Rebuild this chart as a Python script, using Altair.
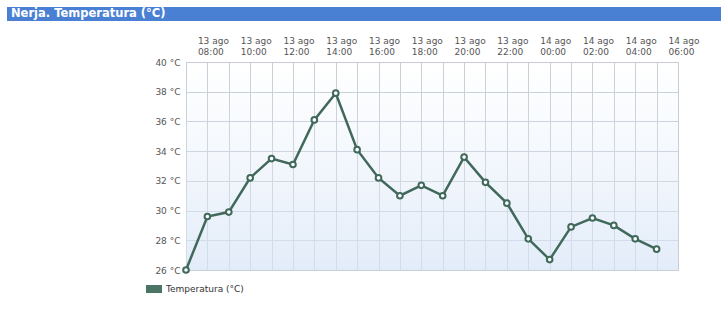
import altair as alt
import pandas as pd

title_text = "Nerja. Temperatura (°C)"
series_name = "Temperatura (°C)"
times = [
    "2023-08-13T07:00:00Z", "2023-08-13T08:00:00Z", "2023-08-13T09:00:00Z",
    "2023-08-13T10:00:00Z", "2023-08-13T11:00:00Z", "2023-08-13T12:00:00Z",
    "2023-08-13T13:00:00Z", "2023-08-13T14:00:00Z", "2023-08-13T15:00:00Z",
    "2023-08-13T16:00:00Z", "2023-08-13T17:00:00Z", "2023-08-13T18:00:00Z",
    "2023-08-13T19:00:00Z", "2023-08-13T20:00:00Z", "2023-08-13T21:00:00Z",
    "2023-08-13T22:00:00Z", "2023-08-13T23:00:00Z", "2023-08-14T00:00:00Z",
    "2023-08-14T01:00:00Z", "2023-08-14T02:00:00Z", "2023-08-14T03:00:00Z",
    "2023-08-14T04:00:00Z", "2023-08-14T05:00:00Z",
]
temps = [26.0, 29.6, 29.9, 32.2, 33.5, 33.1, 36.1, 37.9, 34.1, 32.2, 31.0, 31.7,
         31.0, 33.6, 31.9, 30.5, 28.1, 26.7, 28.9, 29.5, 29.0, 28.1, 27.4]
x_domain = ["2023-08-13T07:00:00Z", "2023-08-14T06:00:00Z"]
hour_ticks = times + ["2023-08-14T06:00:00Z"]
y_ticks = [26, 28, 30, 32, 34, 36, 38, 40]


def to_ms(s):
    return int(pd.Timestamp(s).value // 10**6)


df = pd.DataFrame({"time": [to_ms(t) for t in times], "temp": temps, "serie": series_name})
tdf = pd.DataFrame({"t": [title_text]})

LINE = "#41695b"
FONT = "DejaVu Sans"

x_enc = alt.X(
    "time:T",
    scale=alt.Scale(type="utc", domain=[to_ms(d) for d in x_domain]),
    axis=alt.Axis(
        orient="top", title=None, values=[to_ms(t) for t in hour_ticks],
        ticks=False, tickSize=0,
        domain=False, grid=True, gridColor="#c9ced6", gridWidth=1,
        labelExpr="utchours(datum.value) % 2 == 0 ? [utcFormat(datum.value, '%d') + ' ago', utcFormat(datum.value, '%H:%M')] : ''",
        labelAlign="left", labelOffset=-10, labelPadding=17, labelLineHeight=11,
        labelFont=FONT, labelFontSize=9, labelColor="#555555", labelFlush=False,
        labelOverlap=False, zindex=0,
    ),
)
y_enc = alt.Y(
    "temp:Q",
    scale=alt.Scale(domain=[26, 40], nice=False, zero=False),
    axis=alt.Axis(
        title=None, values=y_ticks, ticks=False, tickSize=0, domain=False,
        grid=True, gridColor="#c9ced6", labelExpr="datum.value + ' °C'",
        labelPadding=6, labelFont=FONT, labelFontSize=9, labelColor="#555555",
        labelOverlap=False, labelFlush=False, zindex=0,
    ),
)

bg = alt.Chart(tdf).mark_rect(
    color=alt.LinearGradient(
        gradient="linear", x1=0, x2=0, y1=0, y2=1,
        stops=[alt.GradientStop(offset=0, color="rgba(225,235,248,0)"),
               alt.GradientStop(offset=1, color="rgba(214,228,246,0.7)")],
    )
).encode(x=alt.value(0), x2=alt.value(492), y=alt.value(0), y2=alt.value(208))

line = alt.Chart(df).mark_line(strokeWidth=2.5).encode(
    x=x_enc, y=y_enc,
    color=alt.Color(
        "serie:N", scale=alt.Scale(range=[LINE]),
        legend=alt.Legend(
            title=None, orient="none", legendX=-40, legendY=219,
            symbolType="M-1,-0.5H1V0.5H-1Z", symbolSize=256,
            symbolFillColor="#4a7564", symbolStrokeWidth=0,
            labelFont=FONT, labelFontSize=9, labelColor="#333333",
        ),
    ),
)
points = alt.Chart(df).mark_point(
    filled=True, fill="white", stroke=LINE, strokeWidth=2, size=32, opacity=1
).encode(x=x_enc, y=y_enc)

bar = alt.Chart(tdf).mark_rect(color="#4a80d4").encode(
    x=alt.value(-179), x2=alt.value(535), y=alt.value(-55), y2=alt.value(-41)
)
ttl = alt.Chart(tdf).mark_text(
    align="left", baseline="middle", font=FONT, fontSize=11.5, fontWeight="bold",
    color="white"
).encode(x=alt.value(-175), y=alt.value(-48), text="t:N")

chart = alt.layer(bg, line, points, bar, ttl).properties(
    width=492, height=208,
    autosize=alt.AutoSizeParams(type="none"),
    padding={"left": 186, "top": 62, "right": 43, "bottom": 46},
).configure_view(
    stroke="#9fb6d6", strokeWidth=2,
).configure(background="white")

chart.save("out.html", embed_options={"renderer": "svg", "actions": False})
